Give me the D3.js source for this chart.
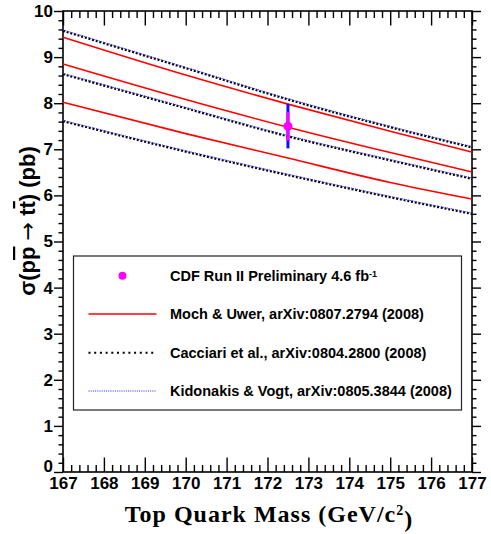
<!DOCTYPE html>
<html>
<head>
<meta charset="utf-8">
<script src="https://cdn.jsdelivr.net/npm/d3@7"></script>
<style>
	body { margin: 0; background: #fff; }
</style>
</head>
<body>
<div id="chartDiv"></div>
<script>
// theory bands at a few masses (GeV/c^2), values in pb
var massPoints = [167, 170, 172.5, 175, 177];
var mochHigh = [9.43, 8.61, 7.98, 7.39, 6.94];
var mochCentral = [8.85, 8.08, 7.48, 6.93, 6.51];
var mochLow = [8.02, 7.34, 6.81, 6.28, 5.92];
var cacciariHigh = [9.57, 8.76, 8.08, 7.48, 7.04];
var cacciariCentral = [8.63, 7.89, 7.28, 6.76, 6.36];
var cacciariLow = [7.61, 6.95, 6.44, 5.96, 5.60];
var kidonakisHigh = [9.59, 8.78, 8.10, 7.50, 7.06];
var kidonakisCentral = [8.65, 7.91, 7.30, 6.78, 6.38];
var kidonakisLow = [7.63, 6.97, 6.46, 5.98, 5.62];

// CDF measurement
var cdfMass = [172.5];
var cdfXsec = [7.5];
var cdfStat = [0.31];
var cdfTotal = [0.48];

var xTickValues = [167, 168, 169, 170, 171, 172, 173, 174, 175, 176, 177];
var yTickValues = [0, 1, 2, 3, 4, 5, 6, 7, 8, 9, 10];
var legendLabels = [
	"CDF Run II Preliminary 4.6 fb",
	"Moch & Uwer, arXiv:0807.2794 (2008)",
	"Cacciari et al., arXiv:0804.2800 (2008)",
	"Kidonakis & Vogt, arXiv:0805.3844 (2008)"
];

var width = 491;
var height = 534;
var margin = { top: 11, right: 19, bottom: 62, left: 63 };
var chartWidth = width - margin.left - margin.right;
var chartHeight = height - margin.top - margin.bottom;
var sansFont = "'Liberation Sans', Arial, sans-serif";

var svg = d3.select("#chartDiv").append("svg")
	.attr("width", width)
	.attr("height", height);

var plot = svg.append("g")
	.attr("transform", "translate(" + margin.left + "," + margin.top + ")");

var xScale = d3.scaleLinear().domain([167, 177]).range([0, chartWidth]);
var yScale = d3.scaleLinear().domain([0, 10]).range([chartHeight, 0]);

var xMinor = d3.range(167, 177.001, 0.2).filter(function(v) { return Math.abs(v - Math.round(v)) > 0.01; });
var yMinor = d3.range(0, 10.001, 0.2).filter(function(v) { return Math.abs(v - Math.round(v)) > 0.01; });

// axes: x ticks point inside, y ticks point outside
function drawAxis(axis, tx, ty, cls) {
	var g = plot.append("g")
		.attr("class", cls)
		.attr("transform", "translate(" + tx + "," + ty + ")")
		.call(axis);
	g.select(".domain").remove();
	g.selectAll("line").attr("stroke", "#000").attr("stroke-width", 1.4);
	return g;
}

function styleLabels(g) {
	g.selectAll("text")
		.attr("fill", "#000")
		.style("font-family", sansFont)
		.style("font-weight", "bold")
		.style("font-size", "17px");
}

var bottomAxis = drawAxis(d3.axisBottom(xScale).tickValues(xTickValues).tickSize(-14.5).tickSizeOuter(0).tickPadding(4)
	.tickFormat(d3.format("d")), 0, chartHeight, "x axis");
styleLabels(bottomAxis);
bottomAxis.selectAll("text").attr("dy", "0.75em");
drawAxis(d3.axisBottom(xScale).tickValues(xMinor).tickSize(-7).tickFormat(""), 0, chartHeight, "x minor");
drawAxis(d3.axisTop(xScale).tickValues(xTickValues).tickSize(-14.5).tickFormat(""), 0, 0, "x top");
drawAxis(d3.axisTop(xScale).tickValues(xMinor).tickSize(-7).tickFormat(""), 0, 0, "x top minor");

var leftAxis = drawAxis(d3.axisLeft(yScale).tickValues(yTickValues).tickSize(9).tickPadding(1)
	.tickFormat(d3.format("d")), 0, 0, "y axis");
styleLabels(leftAxis);
// lowest label is lifted so it clears the x labels
leftAxis.selectAll("text").filter(function(d) { return d === 0; }).attr("dy", "-0.05em");
drawAxis(d3.axisLeft(yScale).tickValues(yMinor).tickSize(4.5).tickFormat(""), 0, 0, "y minor");
drawAxis(d3.axisRight(yScale).tickValues(yTickValues).tickSize(9).tickFormat(""), chartWidth, 0, "y right");
drawAxis(d3.axisRight(yScale).tickValues(yMinor).tickSize(4.5).tickFormat(""), chartWidth, 0, "y right minor");

// frame
plot.append("rect")
	.attr("width", chartWidth)
	.attr("height", chartHeight)
	.attr("fill", "none")
	.attr("stroke", "#000")
	.attr("stroke-width", 1.6);

var line = d3.line()
	.x(function(d) { return xScale(d[0]); })
	.y(function(d) { return yScale(d[1]); })
	.curve(d3.curveMonotoneX);

function drawCurve(values, color, dash, w) {
	plot.append("path")
		.datum(massPoints.map(function(m, i) { return [m, values[i]]; }))
		.attr("d", line)
		.attr("fill", "none")
		.attr("stroke", color)
		.attr("stroke-width", w)
		.attr("stroke-dasharray", dash);
}

[mochHigh, mochCentral, mochLow].forEach(function(s) { drawCurve(s, "#ff0000", null, 1.6); });
[cacciariHigh, cacciariCentral, cacciariLow].forEach(function(s) { drawCurve(s, "#000", "2,1.8", 2.2); });
[kidonakisHigh, kidonakisCentral, kidonakisLow].forEach(function(s) { drawCurve(s, "#3333ff", "1,1", 1); });

// data point with total (blue) and stat (magenta) errors
cdfMass.forEach(function(m, i) {
	var cx = xScale(m);
	plot.append("line")
		.attr("x1", cx).attr("x2", cx)
		.attr("y1", yScale(cdfXsec[i] + cdfTotal[i]))
		.attr("y2", yScale(cdfXsec[i] - cdfTotal[i]))
		.attr("stroke", "#1010ff").attr("stroke-width", 3);
	plot.append("line")
		.attr("x1", cx).attr("x2", cx)
		.attr("y1", yScale(cdfXsec[i] + cdfStat[i]))
		.attr("y2", yScale(cdfXsec[i] - cdfStat[i]))
		.attr("stroke", "#ff00ff").attr("stroke-width", 3);
	plot.append("circle")
		.attr("cx", cx).attr("cy", yScale(cdfXsec[i]))
		.attr("r", 4.5)
		.attr("fill", "#ff00ff");
});

// legend
var legend = svg.append("g").attr("transform", "translate(73.5,256)");
legend.append("rect")
	.attr("width", 388)
	.attr("height", 154)
	.attr("fill", "#fff")
	.attr("stroke", "#222")
	.attr("stroke-width", 1.2);

var rowY = [19.7, 58, 96.7, 135];
legend.append("circle").attr("cx", 49).attr("cy", rowY[0]).attr("r", 4).attr("fill", "#ff00ff");
legend.append("line").attr("x1", 15).attr("x2", 83).attr("y1", rowY[1]).attr("y2", rowY[1])
	.attr("stroke", "#ff0000").attr("stroke-width", 1.6);
legend.append("line").attr("x1", 15).attr("x2", 83).attr("y1", rowY[2]).attr("y2", rowY[2])
	.attr("stroke", "#000").attr("stroke-width", 2).attr("stroke-dasharray", "2,3.7");
legend.append("line").attr("x1", 15).attr("x2", 83).attr("y1", rowY[3]).attr("y2", rowY[3])
	.attr("stroke", "#2222ff").attr("stroke-width", 1).attr("stroke-dasharray", "1,1.2");

legendLabels.forEach(function(label, i) {
	var t = legend.append("text")
		.attr("x", 96.5)
		.attr("y", rowY[i] + 5)
		.style("font-family", sansFont)
		.style("font-weight", "bold")
		.style("font-size", "14.5px")
		.text(label);
	if (i === 0) {
		t.append("tspan").attr("dy", "-0.45em").style("font-size", "9px").text("-1");
	}
});

// axis titles
svg.append("text")
	.attr("x", 269)
	.attr("y", 522)
	.attr("text-anchor", "middle")
	.style("font-family", "'Liberation Serif', 'Times New Roman', serif")
	.style("font-weight", "bold")
	.style("font-size", "24px")
	.style("letter-spacing", "1px")
	.call(function(t) {
		t.append("tspan").text("Top Quark Mass (GeV/c");
		t.append("tspan").attr("dy", "-0.5em").style("font-size", "14px").text("2");
		t.append("tspan").attr("dy", "0.5em").text(")");
	});

var yTitle = svg.append("text")
	.attr("transform", "translate(35,221) rotate(-90)")
	.attr("text-anchor", "middle")
	.style("font-family", sansFont)
	.style("font-weight", "bold")
	.style("font-size", "22px");
yTitle.append("tspan").text("\u03c3(p");
yTitle.append("tspan").style("text-decoration", "overline").text("p");
yTitle.append("tspan").text(" ");
yTitle.append("tspan").style("font-family", "'DejaVu Sans', sans-serif").style("font-weight", "normal").text("\u2192");
yTitle.append("tspan").text(" t");
yTitle.append("tspan").style("text-decoration", "overline").text("t");
yTitle.append("tspan").text(") (pb)");
</script>
</body>
</html>
